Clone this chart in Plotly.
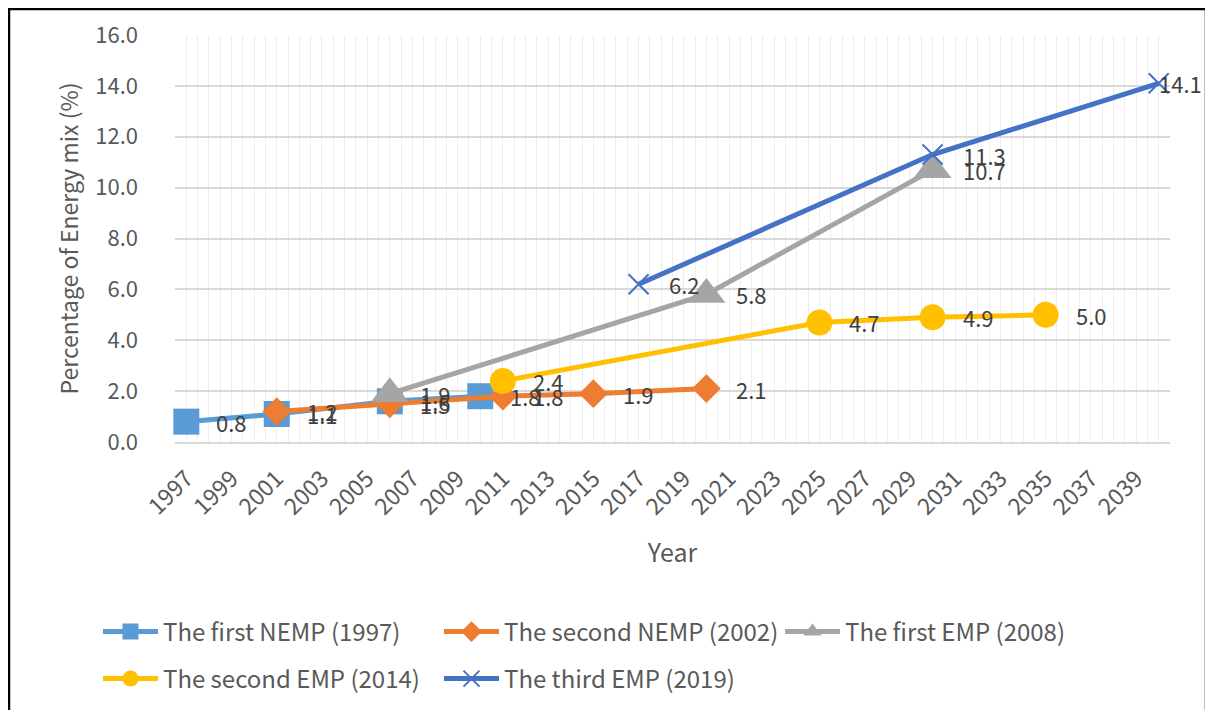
import plotly.graph_objects as go

# ---- data ----
nemp1_years = [1997, 2001, 2006, 2010]
nemp1_vals = [0.8, 1.1, 1.6, 1.8]

nemp2_years = [2001, 2006, 2011, 2015, 2020]
nemp2_vals = [1.2, 1.5, 1.8, 1.9, 2.1]

emp1_years = [2006, 2020, 2030]
emp1_vals = [1.9, 5.8, 10.7]

emp2_years = [2011, 2025, 2030, 2035]
emp2_vals = [2.4, 4.7, 4.9, 5.0]

emp3_years = [2017, 2030, 2040]
emp3_vals = [6.2, 11.3, 14.1]

tick_years = list(range(1997, 2040, 2))
y_ticks = [0, 2, 4, 6, 8, 10, 12, 14, 16]

FONT = "Noto Sans CJK KR"
LABEL_COLOR = "#404040"
AXIS_COLOR = "#595959"

series = [
    ("The first NEMP (1997)", nemp1_years, nemp1_vals, "#5B9BD5", "square", 26, "legend"),
    ("The second NEMP (2002)", nemp2_years, nemp2_vals, "#ED7D31", "diamond", 22, "legend"),
    ("The first EMP (2008)", emp1_years, emp1_vals, "#A5A5A5", "triangle-up", 33, "legend"),
    ("The second EMP (2014)", emp2_years, emp2_vals, "#FFC000", "circle", 26, "legend2"),
    ("The third EMP (2019)", emp3_years, emp3_vals, "#4472C4", "x-thin-open", 20, "legend2"),
]

# page body adds an 8px offset; layout numbers below are in figure pixels
W, H = 1213, 710
ml, mr, mt, mb = 167, 51, 27, 276
pw = W - ml - mr
ph = H - mt - mb
X0, X1 = 1996.5, 2040.5


def px_x(x):
    return (x - ml) / pw


def px_y(y):
    return (H - mb - y) / ph


fig = go.Figure()
annotations = []
for name, xs, ys, color, sym, size, leg in series:
    fig.add_trace(go.Scatter(
        x=xs, y=ys, name=name, legend=leg,
        mode="lines+markers",
        line=dict(color=color, width=5),
        marker=dict(symbol=sym, size=size, color=color,
                    line=dict(color=color, width=2 if sym.startswith("x") else 0)),
        cliponaxis=False,
    ))
    for x, y in zip(xs, ys):
        # data label right of the marker, kept inside the chart box
        xpix = ml + (x - X0) / (X1 - X0) * pw
        shift = 28
        label_w = 42
        right_limit = 1191
        if xpix + shift + label_w > right_limit:
            shift = right_limit - label_w - xpix
        annotations.append(dict(
            x=x, y=y, xref="x", yref="y", text=f"{y:.1f}", showarrow=False,
            xanchor="left", yanchor="middle", xshift=shift,
            font=dict(family=FONT, size=22, color=LABEL_COLOR),
        ))

legend_common = dict(
    orientation="h", xanchor="left", yanchor="middle",
    font=dict(family=FONT, size=24, color=AXIS_COLOR),
    itemwidth=55, entrywidth=271, entrywidthmode="pixels",
    bgcolor="rgba(0,0,0,0)",
)

fig.update_layout(
    width=W, height=H,
    margin=dict(l=ml, r=mr, t=mt, b=mb, autoexpand=False),
    paper_bgcolor="white", plot_bgcolor="white",
    font=dict(family=FONT, color=AXIS_COLOR, size=21),
    showlegend=True,
    legend=dict(x=px_x(90), y=px_y(624), **legend_common),
    legend2=dict(x=px_x(90), y=px_y(671), **legend_common),
    annotations=annotations,
    xaxis=dict(
        range=[X0, X1],
        tickmode="array", tickvals=tick_years, ticktext=[str(t) for t in tick_years],
        tickangle=-45, ticks="", ticklabelstandoff=12,
        showgrid=True, gridcolor="#EDEDED", gridwidth=1,
        minor=dict(dtick=0.5, tick0=1996.5, showgrid=True, gridcolor="#EDEDED", gridwidth=1),
        showline=True, linecolor="#D9D9D9", linewidth=2,
        zeroline=False,
        tickfont=dict(family=FONT, size=23, color=AXIS_COLOR),
        title=dict(text="Year", font=dict(family=FONT, size=25, color=AXIS_COLOR), standoff=24),
    ),
    yaxis=dict(
        range=[0, 16], tickvals=y_ticks, tickformat=".1f",
        showgrid=True, gridcolor="#D9D9D9", gridwidth=2,
        zeroline=False, showline=False, ticks="", ticklabelstandoff=36,
        tickfont=dict(family=FONT, size=22, color=AXIS_COLOR),
        title=dict(text="Percentage of Energy mix (%)", font=dict(family=FONT, size=23, color=AXIS_COLOR), standoff=10),
    ),
    shapes=[dict(
        type="rect", xref="paper", yref="paper",
        x0=px_x(1), x1=px_x(1198), y0=px_y(760), y1=px_y(1),
        line=dict(color="black", width=2.5), fillcolor="rgba(0,0,0,0)", layer="above",
    )],
)

fig.write_html("out.html")
